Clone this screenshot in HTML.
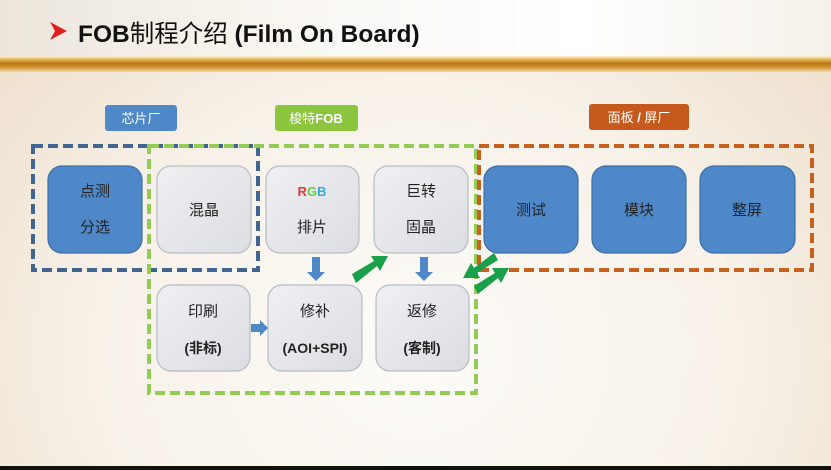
<!DOCTYPE html>
<html><head><meta charset="utf-8"><style>
html,body{margin:0;padding:0;width:831px;height:470px;overflow:hidden}
body{background:radial-gradient(ellipse at 50% 75%,#fdfcf9 0%,#f7f1e8 55%,#ecdcc8 100%);position:relative;font-family:"Liberation Sans","Noto Sans CJK SC",sans-serif}
</style></head><body>
<div style="position:absolute;left:0;top:0;width:831px;height:56px;background:linear-gradient(90deg,#ece6dc,#fbf9f5 40%,#fff 70%,#f5f1ea)"></div>
<div style="position:absolute;left:0;top:56px;width:831px;height:16px;background:linear-gradient(180deg,#fff3d8 0%,#e0a848 25%,#b87818 45%,#d09030 70%,#f2d9a0 100%)"></div>
<div style="position:absolute;left:0;top:466px;width:831px;height:4px;background:#111"></div>
<svg width="831" height="470" style="position:absolute;left:0;top:0" font-family="Liberation Sans, Noto Sans CJK SC, sans-serif">
<defs>
<linearGradient id="g" x1="0" y1="0" x2="1" y2="1"><stop offset="0" stop-color="#f0f0f3"/><stop offset="1" stop-color="#dcdde2"/></linearGradient>
</defs>
<polygon points="50,22 67,31 50,40 55,31" fill="#e02020"/>
<text x="78" y="42" font-size="24.5" font-weight="bold" fill="#111">FOB<tspan font-weight="normal">制程介绍</tspan> (Film On Board)</text>

<rect x="105" y="105" width="72" height="26" rx="3" fill="#4f88c8"/>
<text x="141" y="123" font-size="13" fill="#fff" text-anchor="middle">芯片厂</text>
<rect x="275" y="105" width="83" height="26" rx="3" fill="#8cc63f"/>
<text x="316" y="123" font-size="13" fill="#fff" text-anchor="middle">梭特<tspan font-weight="bold">FOB</tspan></text>
<rect x="589" y="104" width="100" height="26" rx="3" fill="#c65a1c"/>
<text x="639" y="122" font-size="13" fill="#fff" text-anchor="middle">面板 <tspan font-weight="bold">/</tspan> 屏厂</text>

<g stroke="#b8bcc4" stroke-width="1.2">
<rect x="48" y="166" width="94" height="87" rx="14" fill="#4f88c8" stroke="#3c6ea8"/>
<rect x="157" y="166" width="94" height="87" rx="14" fill="url(#g)"/>
<rect x="266" y="166" width="93" height="87" rx="14" fill="url(#g)"/>
<rect x="374" y="166" width="94" height="87" rx="14" fill="url(#g)"/>
<rect x="484" y="166" width="94" height="87" rx="14" fill="#4f88c8" stroke="#3c6ea8"/>
<rect x="592" y="166" width="94" height="87" rx="14" fill="#4f88c8" stroke="#3c6ea8"/>
<rect x="700" y="166" width="95" height="87" rx="14" fill="#4f88c8" stroke="#3c6ea8"/>
<rect x="157" y="285" width="93" height="86" rx="14" fill="url(#g)"/>
<rect x="268" y="285" width="94" height="86" rx="14" fill="url(#g)"/>
<rect x="376" y="285" width="93" height="86" rx="14" fill="url(#g)"/>
</g>

<g fill="none" stroke-width="4" stroke-dasharray="10,5">
<rect x="33" y="146" width="225" height="124" stroke="#3f6590"/>
<rect x="149" y="146" width="327" height="247" stroke="#92cc54"/>
<rect x="479" y="146" width="333" height="124" stroke="#c8601e"/>
</g>

<g font-size="15" fill="#222" text-anchor="middle">
<text x="95" y="196">点测</text><text x="95" y="232">分选</text>
<text x="204" y="215">混晶</text>
<text x="312" y="196" font-weight="bold" font-size="13"><tspan fill="#e33">R</tspan><tspan fill="#6c4">G</tspan><tspan fill="#3ad">B</tspan></text>
<text x="312" y="232">排片</text>
<text x="421" y="196">巨转</text><text x="421" y="232">固晶</text>
<text x="531" y="215">测试</text><text x="639" y="215">模块</text><text x="747" y="215">整屏</text>
<text x="203" y="316">印刷</text><text x="203" y="353" font-weight="bold" font-size="14">(非标)</text>
<text x="315" y="316">修补</text><text x="315" y="353" font-weight="bold" font-size="14">(AOI+SPI)</text>
<text x="422" y="316">返修</text><text x="422" y="353" font-weight="bold" font-size="14">(客制)</text>
</g>

<g fill="#4f88c8">
<polygon points="312,257 320,257 320,272 325,272 316,281 307,272 312,272"/>
<polygon points="420,257 428,257 428,272 433,272 424,281 415,272 420,272"/>
<polygon points="251,324 260,324 260,320 268,328 260,336 260,332 251,332"/>
</g>
<g fill="#1aa04a">
<polygon points="352,274 374,261 371,256 388,256 380,271 377,266 356,283"/>
<polygon points="498,260 477,273 480,278 463,278 471,263 474,268 494,253"/>
<polygon points="474,286 495,273 492,268 509,268 501,283 498,278 478,294"/>
</g>
</svg>
</body></html>
